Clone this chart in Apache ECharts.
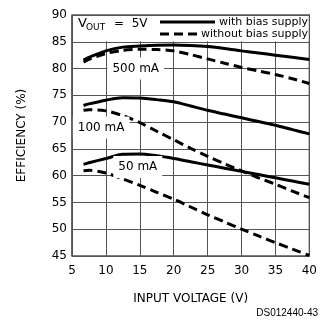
<!DOCTYPE html>
<html><head><meta charset="utf-8">
<script src="https://cdn.jsdelivr.net/npm/echarts@6/dist/echarts.min.js"></script>
<style>html,body{margin:0;padding:0;background:#fff}#c{width:320px;height:320px}</style>
</head><body><div id="c"></div>
<script>
// Efficiency (%) vs input voltage (V)
const volts      = [6.7, 7.5, 10, 12.5, 15, 17.5, 20, 22.5, 25, 27.5, 30, 32.5, 35, 37.5, 40];
const with500    = [81.6, 82.1, 83.3, 84.0, 84.2, 84.35, 84.4, 84.3, 84.1, 83.75, 83.3, 82.9, 82.5, 82.1, 81.7];
const without500 = [81.2, 81.7, 82.8, 83.4, 83.6, 83.55, 83.3, 82.6, 81.8, 81.0, 80.2, 79.55, 78.9, 78.1, 77.2];
const with100    = [73.1, 73.4, 74.1, 74.55, 74.5, 74.2, 73.8, 73.0, 72.2, 71.5, 70.8, 70.1, 69.4, 68.6, 67.8];
const without100 = [72.2, 72.3, 72.1, 71.2, 69.9, 68.3, 66.7, 65.1, 63.6, 62.2, 60.9, 59.6, 58.4, 57.1, 55.9];
const with50     = [62.1, 62.4, 63.2, 64.0, 64.05, 63.7, 63.2, 62.6, 62.0, 61.4, 60.8, 60.2, 59.6, 59.0, 58.4];
const without50  = [60.9, 61.0, 60.5, 59.4, 58.2, 56.9, 55.6, 54.15, 52.7, 51.35, 50.0, 48.75, 47.5, 46.3, 45.1];

const xTicks = [5,10,15,20,25,30,35,40];
const yTicks = [45,50,55,60,65,70,75,80,85,90];

const loadLabels = [[14.4,80,'500 mA'],[9.3,69.0,'100 mA'],[14.7,61.6,'50 mA']];
const legendTexts = ['with bias supply','without bias supply'];
const noteText = 'DS012440-43';

const FONT = 'DejaVu Sans';
const chart = echarts.init(document.getElementById('c'), null, {renderer:'canvas'});

function line(vals, dashed){
  return {type:'line', data:volts.map((v,i)=>[v, vals[i]]), smooth:0.3, showSymbol:false, symbol:'none',
    lineStyle:{color:'#000', width:3, type: dashed ? [9,5] : 'solid', cap:'butt'}, z:3, silent:true};
}

chart.setOption({
  animation:false,
  backgroundColor:'#fff',
  grid:{left:72, right:6, top:15, bottom:64, show:true, borderColor:'#000', borderWidth:1.2, backgroundColor:'transparent'},
  xAxis:{type:'value', min:xTicks[0], max:xTicks[xTicks.length-1], interval:5,
    name:'INPUT VOLTAGE (V)', nameLocation:'middle', nameGap:37,
    nameTextStyle:{fontFamily:FONT, fontSize:12, color:'#000'},
    axisLine:{show:false}, axisTick:{show:false},
    axisLabel:{fontFamily:FONT, fontSize:12, color:'#000', margin:9},
    splitLine:{show:true, lineStyle:{color:'#555', width:1}}},
  yAxis:{type:'value', min:yTicks[0], max:yTicks[yTicks.length-1], interval:5,
    name:'EFFICIENCY (%)', nameLocation:'middle', nameGap:44, nameRotate:90,
    nameTextStyle:{fontFamily:FONT, fontSize:12, color:'#000'},
    axisLine:{show:false}, axisTick:{show:false},
    axisLabel:{fontFamily:FONT, fontSize:12, color:'#000', margin:5},
    splitLine:{show:true, lineStyle:{color:'#555', width:1}}},
  series:[line(with500,false), line(without500,true), line(with100,false), line(without100,true), line(with50,false), line(without50,true)]
});

const p = (x,y)=>chart.convertToPixel({gridIndex:0},[x,y]);
const tl = p(5,90), br = p(40,85);
const els = [];
// white band behind the legend (no vertical grid lines there)
els.push({type:'rect', shape:{x:tl[0]+1, y:tl[1]+1, width:br[0]-tl[0]-2, height:br[1]-tl[1]-1.5}, style:{fill:'#fff'}, z:1});
// Vout label
els.push({type:'text', x:78, y:30, style:{text:'V', font:'13px '+FONT, fill:'#000', textVerticalAlign:'bottom'}, z:5});
els.push({type:'text', x:86, y:32, style:{text:'OUT', font:'9px '+FONT, fill:'#000', textVerticalAlign:'bottom'}, z:5});
els.push({type:'text', x:114, y:30, style:{text:'=  5V', font:'12px '+FONT, fill:'#000', textVerticalAlign:'bottom'}, z:5});
// legend
els.push({type:'line', shape:{x1:160, y1:22, x2:215, y2:22}, style:{stroke:'#000', lineWidth:3}, z:5});
els.push({type:'line', shape:{x1:160, y1:34, x2:197, y2:34}, style:{stroke:'#000', lineWidth:3, lineDash:[9,5]}, z:5});
els.push({type:'text', x:308, y:22, style:{text:legendTexts[0], font:'11px '+FONT, fill:'#000', textAlign:'right', textVerticalAlign:'middle'}, z:5});
els.push({type:'text', x:308, y:34, style:{text:legendTexts[1], font:'11px '+FONT, fill:'#000', textAlign:'right', textVerticalAlign:'middle'}, z:5});
// load labels
loadLabels.forEach(l=>{
  const q = p(l[0], l[1]);
  els.push({type:'text', x:q[0], y:q[1], style:{text:l[2], font:'12px '+FONT, fill:'#000', textAlign:'center', textVerticalAlign:'middle', backgroundColor:'#fff', padding:[5,5]}, z:5});
});
els.push({type:'text', x:318, y:313, style:{text:noteText, font:'10px Liberation Sans', fill:'#000', textAlign:'right', textVerticalAlign:'middle'}, z:5});
chart.setOption({graphic:{elements:els}});
</script></body></html>
